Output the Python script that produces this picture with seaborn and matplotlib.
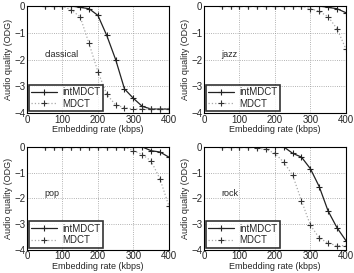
import matplotlib
matplotlib.use('Agg')
import matplotlib.pyplot as plt
import pandas as pd
import seaborn as sns

# embedding rates (kbps)
rates = [50, 75, 100, 125, 150, 175, 200, 225, 250, 275, 300, 325, 350, 375, 400]

genres = ['classical', 'jazz', 'pop', 'rock']

classical_int = [0, 0, 0, 0, -0.05, -0.1, -0.35, -1.1, -2.0, -3.1, -3.45, -3.75, -3.85, -3.85, -3.85]
classical_mdct = [0, 0, 0, -0.15, -0.4, -1.4, -2.45, -3.3, -3.7, -3.8, -3.85, -3.85, -3.85, -3.85, -3.85]

jazz_int = [0, 0, 0, 0, 0, 0, 0, 0, 0, 0, 0, 0, -0.05, -0.1, -0.25]
jazz_mdct = [0, 0, 0, 0, 0, 0, 0, 0, 0, 0, -0.1, -0.2, -0.4, -0.85, -1.6]

pop_int = [0, 0, 0, 0, 0, 0, 0, 0, 0, 0, 0, 0, -0.15, -0.2, -0.4]
pop_mdct = [0, 0, 0, 0, 0, 0, 0, 0, 0, 0, -0.15, -0.3, -0.55, -1.25, -2.3]

rock_int = [0, 0, 0, 0, 0, 0, 0, 0, -0.25, -0.4, -0.85, -1.55, -2.5, -3.15, -3.65]
rock_mdct = [0, 0, 0, 0, -0.05, -0.1, -0.25, -0.6, -1.1, -2.1, -3.05, -3.55, -3.75, -3.85, -3.85]

int_vals = [classical_int, jazz_int, pop_int, rock_int]
mdct_vals = [classical_mdct, jazz_mdct, pop_mdct, rock_mdct]

sns.set_style('white')
plt.rcParams['font.family'] = ['Liberation Sans', 'DejaVu Sans']
plt.rcParams['font.size'] = 7

fig = plt.figure(figsize=(3.54, 2.73), dpi=100)
lefts = [0.076, 0.576]
# [bottom, height] for top and bottom rows
rows = [[0.586, 0.392], [0.086, 0.376]]
w = 0.401

for i, g in enumerate(genres):
    b, h = rows[i // 2]
    ax = fig.add_axes([lefts[i % 2], b, w, h])
    df = pd.DataFrame({'rate': rates, 'int': int_vals[i], 'mdct': mdct_vals[i]})
    sns.lineplot(data=df, x='rate', y='int', ax=ax, color='#222222', lw=0.9,
                 marker='+', markersize=5, markeredgewidth=0.8,
                 markeredgecolor='#222222', label='intMDCT')
    sns.lineplot(data=df, x='rate', y='mdct', ax=ax, color='#aaaaaa', lw=0.9,
                 linestyle=':', marker='+', markersize=5, markeredgewidth=0.8,
                 markeredgecolor='#333333', label='MDCT')
    ax.set_xlim(0, 400)
    ax.set_ylim(-4, 0)
    ax.set_xticks([0, 100, 200, 300, 400])
    ax.set_yticks([-4, -3, -2, -1, 0])
    ax.grid(True, linestyle=':', color='#999999', lw=0.6)
    for s in ax.spines.values():
        s.set_color('black')
        s.set_linewidth(0.8)
    ax.tick_params(labelsize=7, length=2, pad=1.2, direction='in')
    ax.set_xlabel('Embedding rate (kbps)', fontsize=6.5, labelpad=0.5)
    ax.set_ylabel('Audio quality (ODG)', fontsize=6.5, labelpad=1)
    ax.text(50, -1.8, g, fontsize=6.5, va='center')
    leg = ax.legend(loc='lower left', fontsize=7, frameon=True, fancybox=False,
                    borderaxespad=0.2, handlelength=2.6, labelspacing=0.15,
                    borderpad=0.25, handletextpad=0.6)
    leg.get_frame().set_edgecolor('black')
    leg.get_frame().set_linewidth(1.2)

fig.savefig('out.png', dpi=100)
